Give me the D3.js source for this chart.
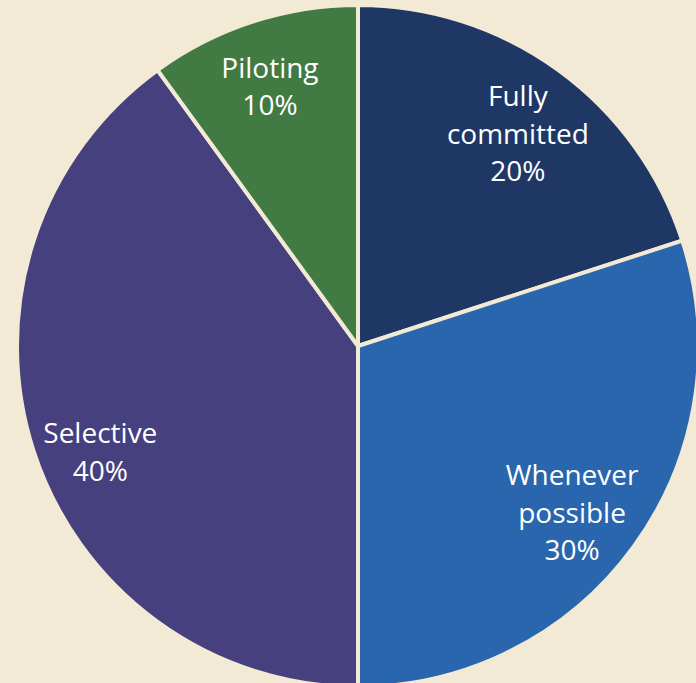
<!DOCTYPE html>
<html>
<head>
<meta charset="utf-8">
<script src="https://cdn.jsdelivr.net/npm/d3@7"></script>
<style>
  html, body { margin: 0; padding: 0; background: #F3EAD5; }
  svg { display: block; }
</style>
</head>
<body>
<svg id="chart" width="696" height="683"></svg>
<script>
// Adoption levels, in clockwise order starting from twelve o'clock
const categories = ["Fully committed", "Whenever possible", "Selective", "Piloting"];
const shares = [20, 30, 40, 10];
const labelLines = [["Fully", "committed", "20%"], ["Whenever", "possible", "30%"], ["Selective", "40%"], ["Piloting", "10%"]];
const colors = ["#1F3765", "#2966AE", "#46407F", "#427A43"];

const width = 696, height = 683;
const cx = 358, cy = 346;
const radius = 341;          // outer edge is trimmed by half of the separator stroke
const bg = "#F3EAD5";

const svg = d3.select("#chart");
svg.append("rect").attr("width", width).attr("height", height).attr("fill", bg);

const pie = d3.pie().value(d => d.value).sort(null);
const arcs = pie(categories.map((c, i) => ({ name: c, value: shares[i], lines: labelLines[i] })));

const arc = d3.arc().innerRadius(0).outerRadius(radius);
const labelArc = d3.arc().innerRadius(272).outerRadius(272);

// small per-label adjustments of the text blocks
const labelNudge = {
  "Fully committed": [0, 8],
  "Whenever possible": [-6, 7],
  "Selective": [1, 22],
  "Piloting": [-4, -1]
};

const g = svg.append("g").attr("transform", `translate(${cx},${cy})`);

g.selectAll("path.slice")
  .data(arcs)
  .join("path")
  .attr("class", "slice")
  .attr("d", arc)
  .attr("fill", (d, i) => colors[i])
  .attr("stroke", bg)
  .attr("stroke-width", 4)
  .attr("stroke-linejoin", "miter");

const lineH = 37.5;
const labels = g.selectAll("text.label")
  .data(arcs)
  .join("text")
  .attr("class", "label")
  .attr("transform", d => {
    const [x, y] = labelArc.centroid(d);
    const n = labelNudge[d.data.name] || [0, 0];
    return `translate(${x + n[0]},${y + n[1]})`;
  })
  .attr("text-anchor", "middle")
  .attr("fill", "#FFFFFF")
  .style("font-family", "'Open Sans', 'DejaVu Sans', sans-serif")
  .style("font-size", "28px");

labels.selectAll("tspan")
  .data(d => d.data.lines.map((t, k) => ({ t, k, n: d.data.lines.length })))
  .join("tspan")
  .attr("x", 0)
  .attr("y", d => (d.k - (d.n - 1) / 2) * lineH + 10)
  .text(d => d.t);
</script>
</body>
</html>
